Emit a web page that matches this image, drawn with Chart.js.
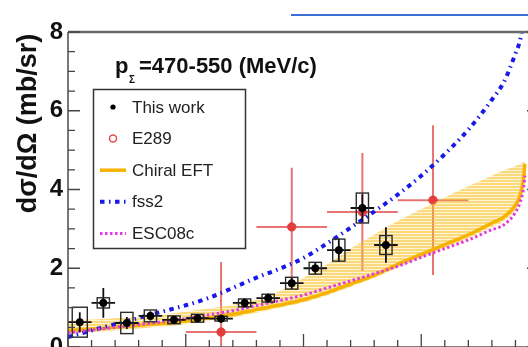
<!DOCTYPE html>
<html><head><meta charset="utf-8">
<script src="https://cdn.jsdelivr.net/npm/chart.js@4.4.0/dist/chart.umd.min.js"></script>
<style>
html,body{margin:0;padding:0;background:#fff;overflow:hidden;width:528px;height:347px;}
#topline{position:absolute;left:291px;top:14px;width:237px;height:2px;background:#3b6fd6;}
#c{position:absolute;left:0;top:0;}
</style></head><body>
<canvas id="c" width="560" height="377"></canvas>
<div id="topline"></div>
<script>
// ---------- data ----------
const yMajorTicks = [0, 2, 4, 6, 8];
const yTickLabels = ['0', '2', '4', '6', '8'];

// This work (J-PARC), bins of width 0.1 in cos(theta)
const workCos  = [-0.95,-0.85,-0.75,-0.65,-0.55,-0.45,-0.35,-0.25,-0.15,-0.05,0.05,0.15,0.25,0.35];
const workVal  = [0.63, 1.12, 0.61, 0.79, 0.69, 0.73, 0.72, 1.12, 1.24, 1.62, 2.00, 2.46, 3.53, 2.59];
const workStat = [0.25, 0.38, 0.15, 0.12, 0.10, 0.10, 0.10, 0.12, 0.12, 0.15, 0.15, 0.30, 0.35, 0.45];
const workSys  = [0.38, 0.13, 0.27, 0.15, 0.10, 0.10, 0.06, 0.10, 0.10, 0.15, 0.15, 0.28, 0.38, 0.24];
const workBinHalf = [0.05,0.05,0.05,0.05,0.05,0.05,0.05,0.05,0.05,0.05,0.05,0.05,0.05,0.05];
const workBoxHalf = [0.032,0.026,0.026,0.026,0.026,0.026,0.026,0.026,0.026,0.026,0.026,0.026,0.026,0.026];

// E289
const e289Cos = [-0.35, -0.05, 0.25, 0.55];
const e289Val = [0.38, 3.05, 3.43, 3.73];
const e289Err = [1.78, 1.50, 1.50, 1.90];
const e289BinHalf = [0.15, 0.15, 0.15, 0.15];

// Theory curves
const thCos     = [-1,-0.9,-0.8,-0.7,-0.6,-0.5,-0.4,-0.3,-0.2,-0.1,0,0.1,0.2,0.3,0.4,0.5,0.6,0.7,0.8,0.85,0.9,0.92,0.935,0.94];
const chiralEFT = [0.42,0.46,0.50,0.55,0.60,0.66,0.74,0.83,0.95,1.07,1.20,1.38,1.60,1.82,2.10,2.35,2.60,2.85,3.15,3.30,3.60,3.85,4.30,4.65];
const chiralLow = [0.34,0.38,0.42,0.47,0.52,0.58,0.66,0.75,0.87,1.00,1.13,1.31,1.53,1.75,2.02,2.27,2.51,2.76,3.05,3.19,3.49,3.74,4.20,4.55];
const chiralUp  = [0.68,0.70,0.73,0.77,0.82,0.90,0.98,1.07,1.20,1.42,1.75,2.10,2.50,2.85,3.20,3.50,3.80,4.08,4.35,4.48,4.60,4.65,4.70,4.72];
const fss2      = [0.25,0.42,0.58,0.74,0.90,1.06,1.25,1.50,1.76,1.99,2.26,2.63,3.03,3.44,3.87,4.35,4.90,5.52,6.28,6.72,7.45,7.80,8.30,8.50];
const esc08c    = [0.36,0.43,0.50,0.57,0.64,0.72,0.82,0.92,1.05,1.18,1.32,1.50,1.68,1.86,2.05,2.28,2.50,2.72,2.98,3.10,3.42,3.68,4.05,4.35];

const pts = (xs, ys) => xs.map((x, i) => ({x, y: ys[i]}));
const FONT = '"Liberation Sans", Arial, Helvetica, sans-serif';

// hatch pattern for the Chiral EFT band
function hatch() {
  const p = document.createElement('canvas'); p.width = 4; p.height = 3;
  const g = p.getContext('2d');
  g.fillStyle = 'rgba(247,196,45,0.62)'; g.fillRect(0, 0, 4, 2);
  g.fillStyle = 'rgba(247,196,45,0.22)'; g.fillRect(0, 2, 4, 1);
  return document.getElementById('c').getContext('2d').createPattern(p, 'repeat');
}

const datasets = [
  {label:'This work', legendKind:'dot', data: pts(workCos, workVal), showLine:false,
   pointRadius:3.6, pointBackgroundColor:'#000', pointBorderColor:'#000', borderColor:'#000', order:0},
  {label:'ESC08c', legendKind:'line', data: pts(thCos, esc08c), borderColor:'#e23be2', borderWidth:3,
   borderDash:[2.5,2.5], pointRadius:0, cubicInterpolationMode:'monotone', fill:false, order:1},
  {label:'fss2', legendKind:'line', data: pts(thCos, fss2), borderColor:'#1818e8', borderWidth:4,
   borderDash:[4.5,4.5,1.5,4.5], pointRadius:0, cubicInterpolationMode:'monotone', fill:false, order:2},
  {label:'Chiral EFT', legendKind:'line', data: pts(thCos, chiralEFT), borderColor:'#f6b400', borderWidth:3.5,
   pointRadius:0, cubicInterpolationMode:'monotone', fill:false, order:3},
  {label:'band', legendKind:null, data: pts(thCos, chiralUp), borderWidth:0, borderColor:'rgba(0,0,0,0)',
   pointRadius:0, cubicInterpolationMode:'monotone', fill:'+1', backgroundColor: hatch(), order:4},
  {label:'bandLow', legendKind:null, data: pts(thCos, chiralLow), borderWidth:0, borderColor:'rgba(0,0,0,0)',
   pointRadius:0, cubicInterpolationMode:'monotone', fill:false, order:5},
  {label:'E289', legendKind:'circle', data: pts(e289Cos, e289Val), showLine:false,
   pointRadius:4.2, pointBackgroundColor:'#e23c3c', pointBorderColor:'#e23c3c', borderColor:'#e05050', order:6}
];

const legendOrder = ['This work', 'E289', 'Chiral EFT', 'fss2', 'ESC08c'];

const errorBars = {
  id: 'errorBars',
  beforeDatasetDraw(chart, args) {
    const {ctx, scales: {x, y}} = chart;
    const ds = chart.data.datasets[args.index];
    ctx.save();
    if (ds.label === 'E289') {
      ctx.strokeStyle = 'rgba(225,80,80,0.8)'; ctx.lineWidth = 2;
      e289Cos.forEach((c, i) => {
        const px = x.getPixelForValue(c), py = y.getPixelForValue(e289Val[i]);
        ctx.beginPath();
        ctx.moveTo(x.getPixelForValue(c - e289BinHalf[i]), py); ctx.lineTo(x.getPixelForValue(c + e289BinHalf[i]), py);
        ctx.moveTo(px, y.getPixelForValue(Math.max(0, e289Val[i] - e289Err[i]))); ctx.lineTo(px, y.getPixelForValue(e289Val[i] + e289Err[i]));
        ctx.stroke();
      });
    }
    if (ds.label === 'This work') {
      workCos.forEach((c, i) => {
        const px = x.getPixelForValue(c), py = y.getPixelForValue(workVal[i]);
        ctx.strokeStyle = '#111'; ctx.lineWidth = 1.8;
        ctx.beginPath();
        ctx.moveTo(x.getPixelForValue(c - workBinHalf[i]), py); ctx.lineTo(x.getPixelForValue(c + workBinHalf[i]), py);
        ctx.moveTo(px, y.getPixelForValue(workVal[i] - workStat[i])); ctx.lineTo(px, y.getPixelForValue(workVal[i] + workStat[i]));
        ctx.stroke();
        ctx.strokeStyle = '#2a2a2a'; ctx.lineWidth = 1.4;
        const bx0 = x.getPixelForValue(c - workBoxHalf[i]), bx1 = x.getPixelForValue(c + workBoxHalf[i]);
        const by0 = y.getPixelForValue(workVal[i] + workSys[i]), by1 = y.getPixelForValue(workVal[i] - workSys[i]);
        ctx.strokeRect(bx0, by0, bx1 - bx0, by1 - by0);
      });
    }
    ctx.restore();
  }
};

const frame = {
  id: 'frame',
  afterDraw(chart) {
    const {ctx, chartArea: {left, right, top, bottom}, scales: {x, y}} = chart;
    ctx.save();
    // frame
    ctx.strokeStyle = '#555'; ctx.lineWidth = 1.6;
    ctx.beginPath(); ctx.moveTo(left, bottom); ctx.lineTo(left, top); ctx.stroke();
    ctx.beginPath(); ctx.moveTo(right, bottom); ctx.lineTo(right, top); ctx.stroke();
    ctx.beginPath(); ctx.moveTo(left, bottom); ctx.lineTo(right, bottom); ctx.stroke();
    ctx.strokeStyle = '#6a6a6a'; ctx.lineWidth = 2.6;
    ctx.beginPath(); ctx.moveTo(left, top); ctx.lineTo(right, top); ctx.stroke();
    // y ticks (inward, both sides)
    ctx.strokeStyle = '#444'; ctx.lineWidth = 1.3;
    for (let k = 0; k <= 16; k++) {
      const v = k * 0.5, py = y.getPixelForValue(v), len = (k % 4 === 0) ? 12 : 7;
      ctx.beginPath(); ctx.moveTo(left, py); ctx.lineTo(left + len, py);
      ctx.moveTo(right, py); ctx.lineTo(right - len, py); ctx.stroke();
    }
    // x ticks (inward, bottom)
    for (let k = 0; k <= 20; k++) {
      const v = -1 + k * 0.1, px = x.getPixelForValue(v), len = (k % 5 === 0) ? 13 : 7;
      ctx.beginPath(); ctx.moveTo(px, bottom); ctx.lineTo(px, bottom - len); ctx.stroke();
    }
    // y-axis title
    ctx.fillStyle = '#111';
    ctx.font = 'bold 27px ' + FONT;
    ctx.save(); ctx.translate(36, 123.5); ctx.rotate(-Math.PI / 2);
    ctx.textAlign = 'center'; ctx.textBaseline = 'alphabetic';
    ctx.fillText('dσ/dΩ (mb/sr)', 0, 0); ctx.restore();
    // panel title
    ctx.textAlign = 'left'; ctx.textBaseline = 'alphabetic';
    ctx.font = 'bold 22px ' + FONT;
    ctx.fillText('p', 115, 73);
    ctx.font = 'bold 10px ' + FONT;
    ctx.fillText('Σ', 129, 83);
    ctx.font = 'bold 22px ' + FONT;
    ctx.fillText('=470-550 (MeV/c)', 139, 73);
    // legend
    const bx = 93.5, by = 89.5, bw = 152, bh = 159;
    ctx.fillStyle = '#fff'; ctx.fillRect(bx, by, bw, bh);
    ctx.strokeStyle = '#333'; ctx.lineWidth = 1.5; ctx.strokeRect(bx, by, bw, bh);
    ctx.font = '17px ' + FONT; ctx.textBaseline = 'middle';
    legendOrder.forEach((lab, i) => {
      const ds = chart.data.datasets.find(d => d.label === lab);
      const cy = 107 + i * 31.6;
      ctx.save();
      if (ds.legendKind === 'dot') {
        ctx.fillStyle = ds.pointBackgroundColor; ctx.beginPath(); ctx.arc(113, cy, 2.6, 0, Math.PI * 2); ctx.fill();
      } else if (ds.legendKind === 'circle') {
        ctx.strokeStyle = ds.borderColor; ctx.lineWidth = 1.5; ctx.beginPath(); ctx.arc(113, cy, 3.5, 0, Math.PI * 2); ctx.stroke();
      } else {
        ctx.strokeStyle = ds.borderColor; ctx.lineWidth = ds.borderWidth; ctx.setLineDash(ds.borderDash || []);
        ctx.beginPath(); ctx.moveTo(100, cy); ctx.lineTo(126, cy); ctx.stroke();
      }
      ctx.restore();
      ctx.fillStyle = '#222'; ctx.fillText(lab, 132, cy + 1);
    });
    ctx.restore();
  }
};

new Chart(document.getElementById('c'), {
  type: 'line',
  data: { datasets },
  options: {
    responsive: false, animation: false, devicePixelRatio: 1,
    layout: { padding: { top: 32, right: 21, left: 0, bottom: 0 } },
    plugins: { legend: { display: false }, tooltip: { enabled: false } },
    scales: {
      x: { type: 'linear', min: -1, max: 1,
           grid: { display: false, drawTicks: false }, border: { display: false },
           ticks: { display: false }, afterFit: s => { s.height = 30; } },
      y: { type: 'linear', min: 0, max: 8,
           grid: { display: false, drawTicks: false }, border: { display: false },
           afterBuildTicks: s => { s.ticks = yMajorTicks.map(v => ({ value: v })); },
           ticks: { padding: 5, color: '#111', font: { family: FONT, size: 24, weight: 'bold' },
                    callback: (v, i) => yTickLabels[i] },
           afterFit: s => { s.width = 68; } }
    }
  },
  plugins: [errorBars, frame]
});
</script>
</body></html>
